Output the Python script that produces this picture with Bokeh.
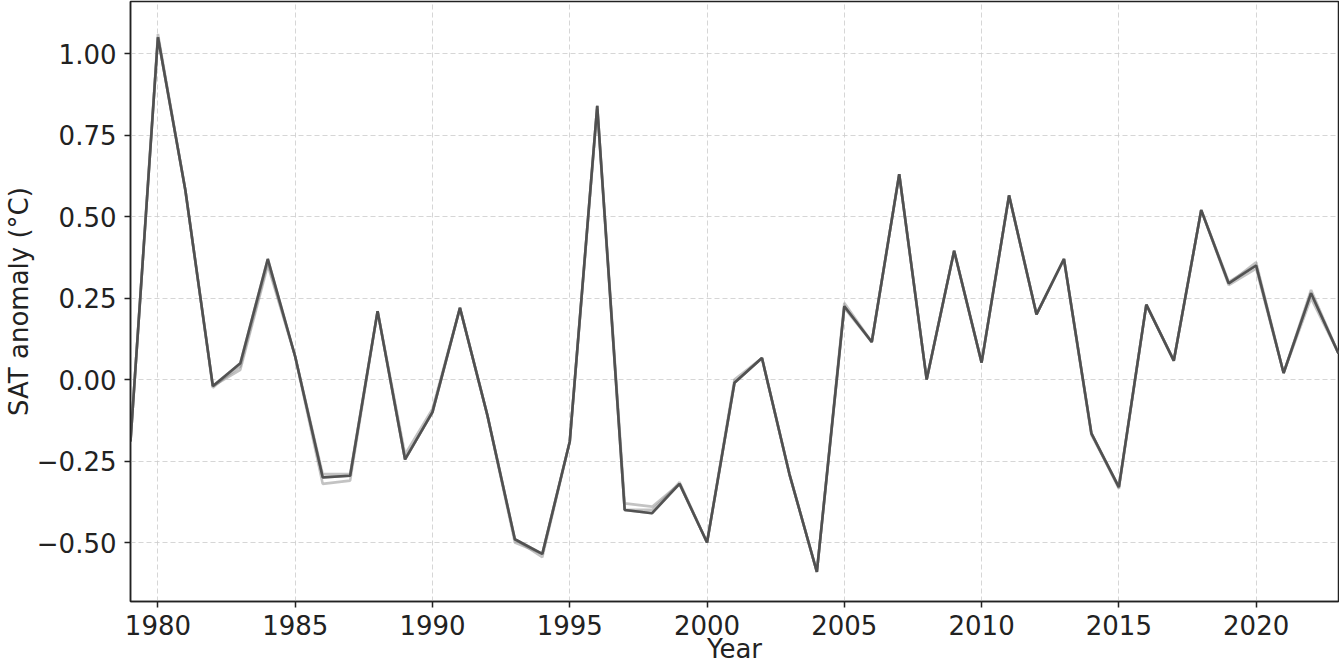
from bokeh.plotting import figure
from bokeh.models import Range1d, FixedTicker, CustomJSTickFormatter
from bokeh.embed import file_html
from bokeh.resources import INLINE

years = list(range(1979, 2024))

# ensemble mean (darkest line)
sat_mean = [-0.19, 1.05, 0.58, -0.02, 0.05, 0.37, 0.07, -0.30, -0.295, 0.21,
            -0.245, -0.10, 0.22, -0.11, -0.49, -0.535, -0.19, 0.84, -0.40, -0.41,
            -0.32, -0.50, -0.01, 0.066, -0.29, -0.59, 0.225, 0.115, 0.63, 0.00,
            0.395, 0.052, 0.565, 0.20, 0.37, -0.165, -0.33, 0.23, 0.058, 0.52,
            0.295, 0.35, 0.02, 0.265, 0.08]

# individual members (lighter lines)
sat_m1 = [-0.19, 1.06, 0.58, -0.02, 0.03, 0.35, 0.07, -0.32, -0.31, 0.21,
          -0.245, -0.10, 0.22, -0.11, -0.49, -0.535, -0.19, 0.84, -0.38, -0.39,
          -0.32, -0.50, 0.00, 0.066, -0.29, -0.59, 0.235, 0.115, 0.63, 0.00,
          0.395, 0.052, 0.565, 0.20, 0.37, -0.165, -0.33, 0.23, 0.058, 0.52,
          0.29, 0.34, 0.02, 0.275, 0.08]
sat_m2 = [-0.19, 1.05, 0.58, -0.025, 0.05, 0.37, 0.07, -0.29, -0.29, 0.21,
          -0.23, -0.09, 0.22, -0.11, -0.49, -0.545, -0.19, 0.84, -0.40, -0.40,
          -0.32, -0.50, -0.01, 0.066, -0.29, -0.59, 0.225, 0.115, 0.63, 0.00,
          0.395, 0.052, 0.565, 0.20, 0.37, -0.17, -0.33, 0.23, 0.058, 0.52,
          0.295, 0.36, 0.02, 0.25, 0.08]
sat_m3 = [-0.19, 1.05, 0.58, -0.02, 0.04, 0.36, 0.07, -0.30, -0.295, 0.21,
          -0.245, -0.10, 0.22, -0.11, -0.50, -0.535, -0.19, 0.83, -0.40, -0.41,
          -0.315, -0.50, -0.01, 0.066, -0.29, -0.59, 0.22, 0.115, 0.63, 0.00,
          0.395, 0.052, 0.565, 0.20, 0.37, -0.165, -0.335, 0.23, 0.058, 0.52,
          0.30, 0.35, 0.02, 0.265, 0.08]
members = [sat_m1, sat_m2, sat_m3]

x_ticks = [1980, 1985, 1990, 1995, 2000, 2005, 2010, 2015, 2020]
y_ticks = [-0.5, -0.25, 0.0, 0.25, 0.5, 0.75, 1.0]

FONT = "DejaVu Sans"
TXT = "#222222"

p = figure(width=1339, height=668, output_backend="svg", toolbar_location=None,
           x_range=Range1d(1979, 2023), y_range=Range1d(-0.681, 1.16),
           min_border_left=130, min_border_right=1, min_border_top=1,
           min_border_bottom=67)
p.background_fill_color = "white"
p.border_fill_color = "white"
p.outline_line_color = "#222222"
p.outline_line_width = 1.5

for m in members:
    p.line(years, m, line_color="#7a7a7a", line_alpha=0.45, line_width=2.6)
p.line(years, sat_mean, line_color="#4d4d4d", line_alpha=0.95, line_width=2.6)

for g in (p.xgrid, p.ygrid):
    g.grid_line_color = "#cccccc"
    g.grid_line_dash = "5 3"
    g.grid_line_width = 1
    g.grid_line_alpha = 0.8

p.xaxis.ticker = FixedTicker(ticks=x_ticks)
p.yaxis.ticker = FixedTicker(ticks=y_ticks)
p.yaxis.formatter = CustomJSTickFormatter(
    code="return (tick < 0 ? '\u2212' : '') + Math.abs(tick).toFixed(2);")
p.xaxis.formatter = CustomJSTickFormatter(code="return tick.toFixed(0);")

for ax in (p.xaxis, p.yaxis):
    ax.axis_line_color = "#222222"
    ax.axis_line_width = 1.5
    ax.major_tick_line_color = "#222222"
    ax.major_tick_line_width = 1.5
    ax.major_tick_out = 6
    ax.major_tick_in = 0
    ax.minor_tick_line_color = None
    ax.major_label_text_font = FONT
    ax.major_label_text_font_size = "26px"
    ax.major_label_text_color = TXT
    ax.axis_label_text_font = FONT
    ax.axis_label_text_font_size = "26px"
    ax.axis_label_text_color = TXT
    ax.axis_label_text_font_style = "normal"

p.xaxis.major_label_standoff = 7
p.yaxis.major_label_standoff = 8
p.xaxis.axis_label = "Year"
p.xaxis.axis_label_standoff = -4
p.yaxis.axis_label = "SAT anomaly (°C)"
p.yaxis.axis_label_standoff = 0

open("out.html", "w").write(file_html(p, INLINE))
